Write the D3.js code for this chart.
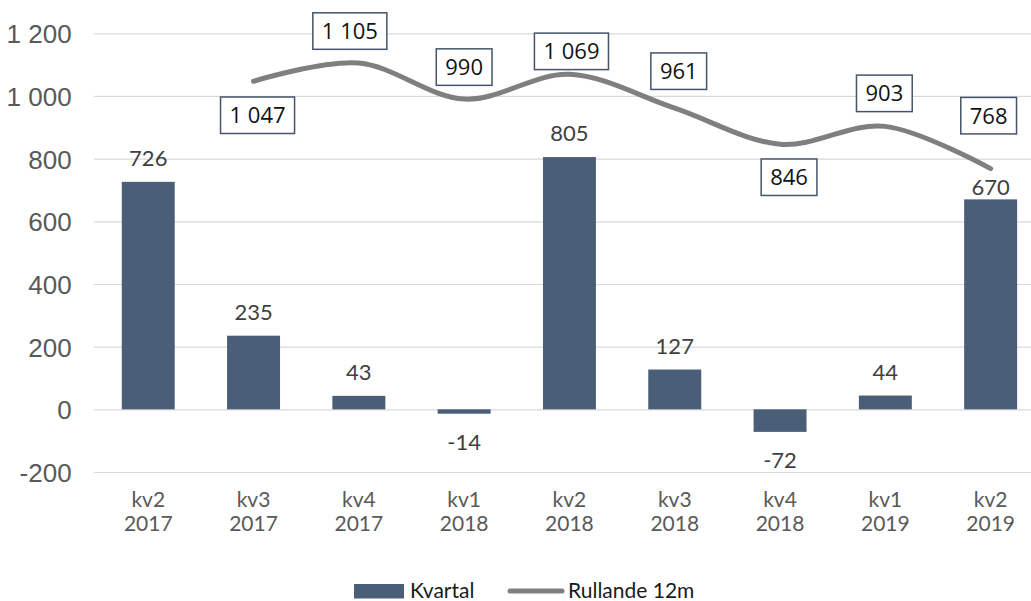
<!DOCTYPE html>
<html>
<head>
<meta charset="utf-8">
<script src="https://cdn.jsdelivr.net/npm/d3@7"></script>
<style>
  body { margin: 0; background: #fff; }
  svg { display: block; font-family: Lato, "Open Sans", sans-serif; }
</style>
</head>
<body>
<svg id="chart"></svg>
<script>
// data
const quarters = ["kv2 2017", "kv3 2017", "kv4 2017", "kv1 2018", "kv2 2018", "kv3 2018", "kv4 2018", "kv1 2019", "kv2 2019"];
const kvartal = [726, 235, 43, -14, 805, 127, -72, 44, 670];
const rullande = [null, 1047, 1105, 990, 1069, 961, 846, 903, 768];
const yTicks = [-200, 0, 200, 400, 600, 800, 1000, 1200];

// label placement (dx, dy of box centre relative to point)
const boxOffsets = [null, [4, 34], [-9, -32], [0, -32], [2, -23], [4, -37], [9, 33], [-1, -33], [-2, -53]];

const W = 1031, H = 601;
const margin = { top: 33.3, left: 95.6, bottom: H - 472 };
const plotW = 105.3 * 9;

const svg = d3.select("#chart").attr("width", W).attr("height", H);

const x = d3.scaleBand()
    .domain(quarters)
    .range([margin.left, margin.left + plotW])
    .paddingInner(0.497)
    .paddingOuter(0.2485);

const y = d3.scaleLinear()
    .domain([-200, 1200])
    .range([472, margin.top]);

const locale = d3.formatLocale({ decimal: ",", thousands: " ", grouping: [3], currency: ["", " kr"], minus: "-" });
const fmt = locale.format(",d");

// y axis + gridlines
const yAxis = svg.append("g")
    .attr("transform", `translate(${margin.left},0)`)
    .call(d3.axisLeft(y).tickValues(yTicks).tickFormat(fmt).tickSize(-(W - margin.left + 20)).tickPadding(24));
yAxis.select(".domain").remove();
yAxis.selectAll(".tick line").attr("stroke", "#d9d9d9").attr("stroke-width", 1.2).attr("x1", -1.6);
yAxis.selectAll(".tick text")
    .attr("fill", "#595959")
    .style("font-size", "26px")
    .attr("dy", "0.36em");

// x labels (two lines each)
const xLabels = svg.append("g").selectAll("text")
    .data(quarters)
    .enter().append("text")
    .attr("text-anchor", "middle")
    .attr("fill", "#595959")
    .style("font-size", "21px");
xLabels.each(function(d) {
    const parts = d.split(" ");
    const cx = x(d) + x.bandwidth() / 2;
    const t = d3.select(this);
    t.append("tspan").attr("x", cx).attr("y", 506.5).text(parts[0]);
    t.append("tspan").attr("x", cx).attr("y", 530.5).text(parts[1]);
});

// bars
svg.append("g").selectAll("rect")
    .data(kvartal)
    .enter().append("rect")
    .attr("x", (d, i) => x(quarters[i]))
    .attr("width", x.bandwidth())
    .attr("y", d => y(Math.max(0, d)))
    .attr("height", d => Math.abs(y(d) - y(0)))
    .attr("fill", "#4a5e78");

// bar value labels
svg.append("g").selectAll("text")
    .data(kvartal)
    .enter().append("text")
    .attr("x", (d, i) => x(quarters[i]) + x.bandwidth() / 2)
    .attr("y", (d, i) => {
        if (d < 0) return y(d) + 36;
        if (i === quarters.length - 1) return y(d) - 4;
        return y(d) - 16;
    })
    .attr("text-anchor", "middle")
    .attr("fill", "#404040")
    .style("font-size", "22px")
    .text(d => fmt(d));

// rolling line
const line = d3.line()
    .defined(d => d != null)
    .x((d, i) => x(quarters[i]) + x.bandwidth() / 2)
    .y(d => y(d))
    .curve(d3.curveCardinal.tension(0));

svg.append("path")
    .datum(rullande)
    .attr("d", line)
    .attr("fill", "none")
    .attr("stroke", "#7f7f7f")
    .attr("stroke-width", 5)
    .attr("stroke-linecap", "round");

// boxed line labels
const boxes = svg.append("g").selectAll("g")
    .data(rullande.map((v, i) => ({ v, i })).filter(d => d.v != null))
    .enter().append("g")
    .attr("transform", d => {
        const o = boxOffsets[d.i];
        return `translate(${x(quarters[d.i]) + x.bandwidth() / 2 + o[0]},${y(d.v) + o[1]})`;
    });

boxes.append("text")
    .attr("text-anchor", "middle")
    .attr("dy", "0.36em")
    .attr("fill", "#111")
    .style("font-family", "'Open Sans', 'Noto Sans', sans-serif")
    .style("font-size", "22px")
    .text(d => fmt(d.v));

boxes.each(function() {
    const g = d3.select(this);
    const bb = g.select("text").node().getBBox();
    const w = bb.width + 18, h = 36.5;
    g.insert("rect", "text")
        .attr("x", -w / 2)
        .attr("y", -h / 2)
        .attr("width", w)
        .attr("height", h)
        .attr("fill", "#fff")
        .attr("stroke", "#44546a")
        .attr("stroke-width", 1.5);
});

// legend
const legend = svg.append("g").attr("transform", "translate(354,584)");
legend.append("rect")
    .attr("width", 50)
    .attr("height", 14.5)
    .attr("fill", "#4a5e78");
legend.append("text")
    .attr("x", 56)
    .attr("y", 14)
    .attr("fill", "#1a1a1a")
    .style("font-size", "21px")
    .text("Kvartal");
legend.append("line")
    .attr("x1", 156)
    .attr("x2", 208)
    .attr("y1", 7)
    .attr("y2", 7)
    .attr("stroke", "#7f7f7f")
    .attr("stroke-width", 5)
    .attr("stroke-linecap", "round");
legend.append("text")
    .attr("x", 214)
    .attr("y", 14)
    .attr("fill", "#1a1a1a")
    .style("font-size", "21px")
    .text("Rullande 12m");
</script>
</body>
</html>
